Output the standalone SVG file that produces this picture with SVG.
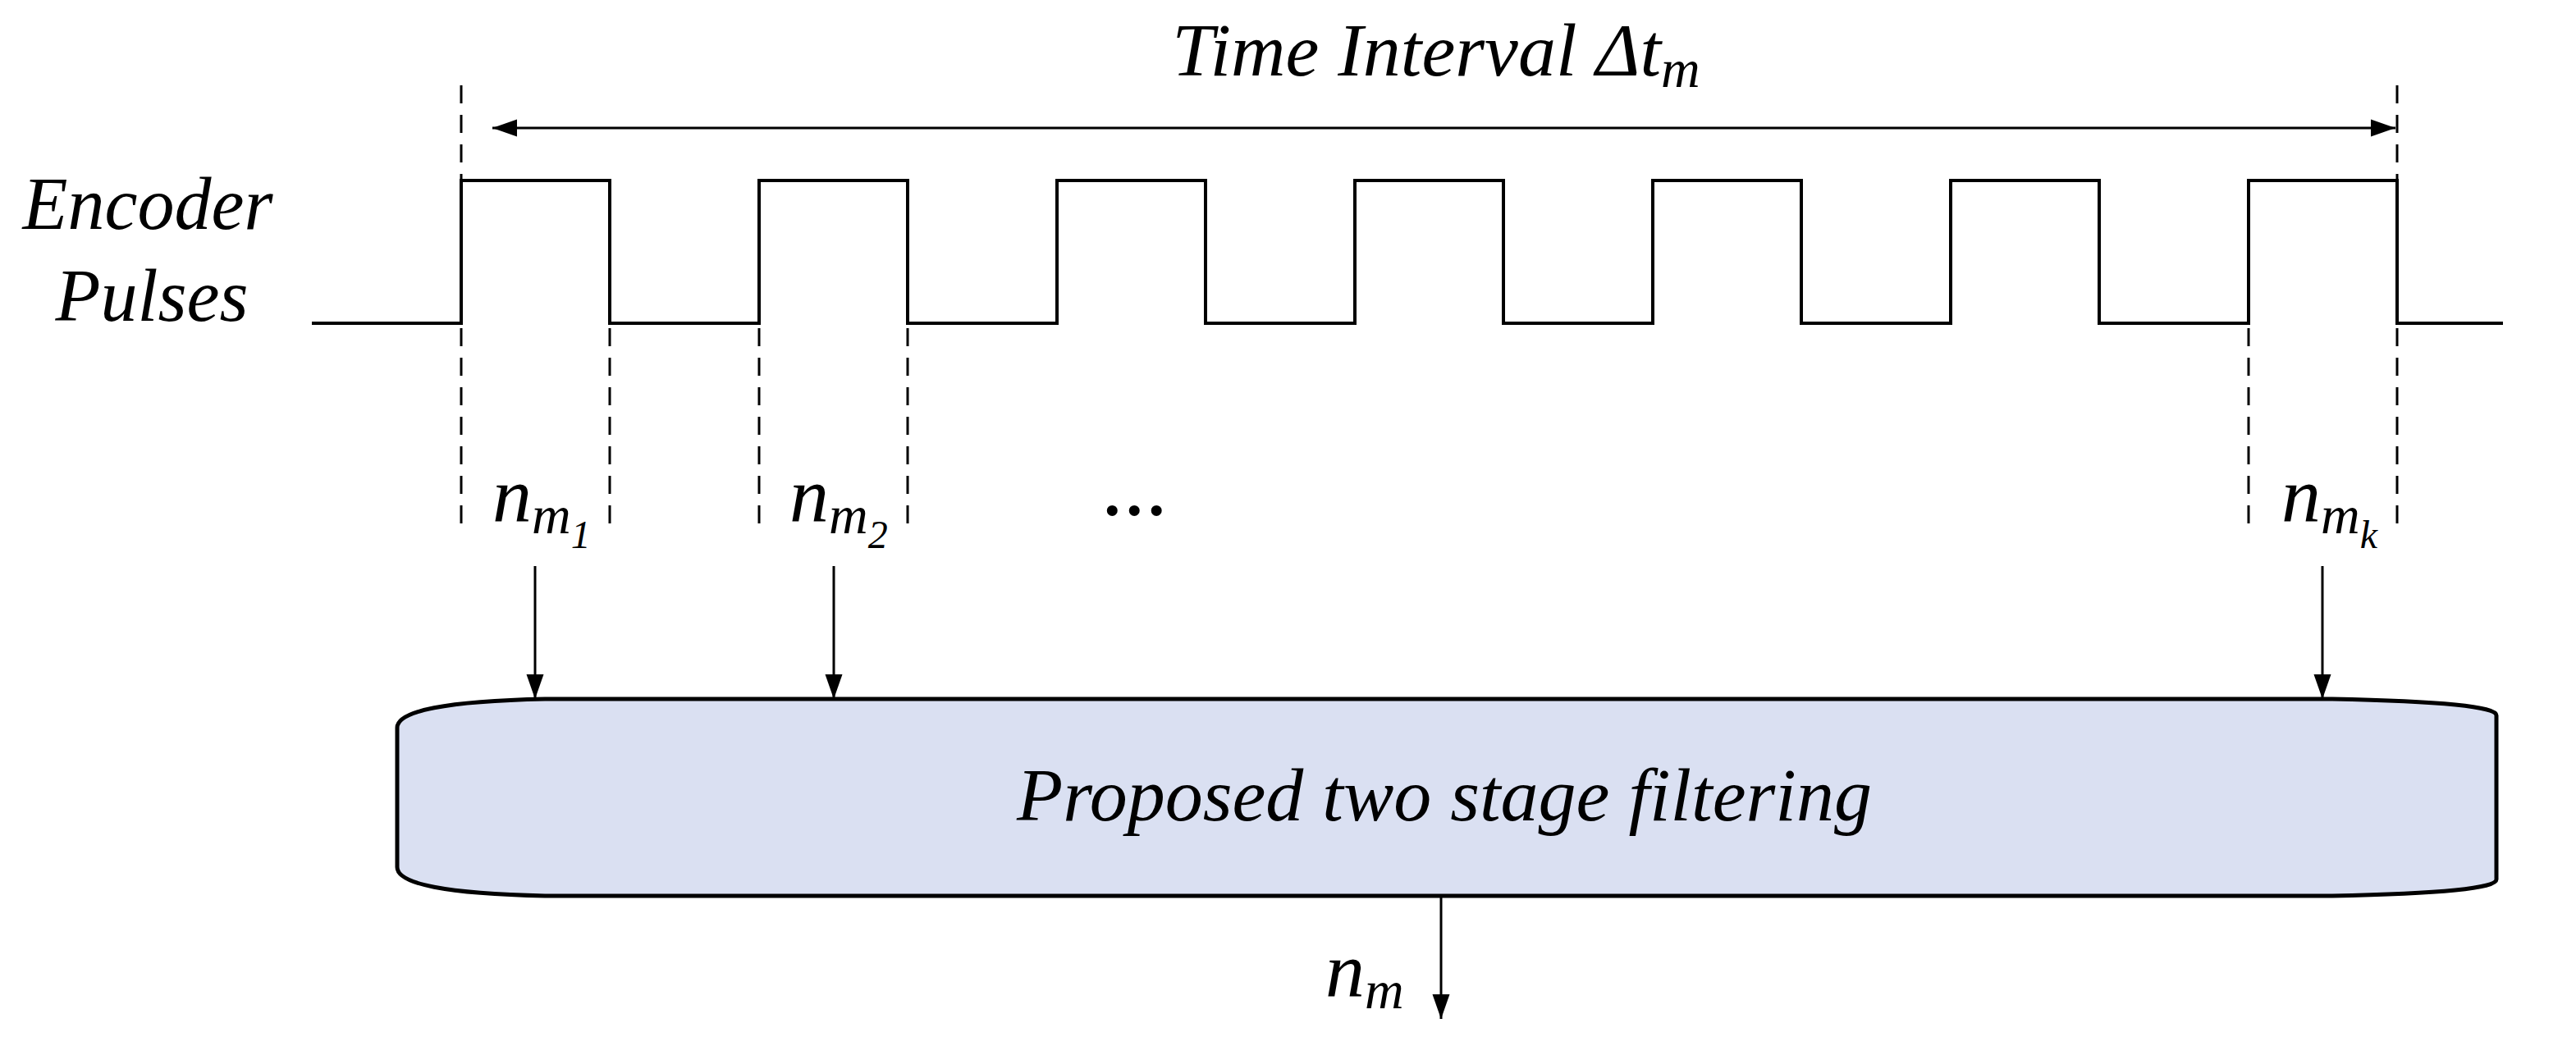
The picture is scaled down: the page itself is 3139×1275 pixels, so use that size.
<svg xmlns="http://www.w3.org/2000/svg" width="3139" height="1275" viewBox="0 0 3139 1275">
<style>
text{font-family:"Liberation Serif","Times New Roman",serif;font-style:italic;fill:#000}
.w{fill:none;stroke:#000;stroke-width:4}
.d{fill:none;stroke:#000;stroke-width:3;stroke-dasharray:22,14}
.a{fill:none;stroke:#000;stroke-width:3}
</style>
<defs>
<marker id="ah" markerWidth="10" markerHeight="10" refX="9" refY="5" orient="auto-start-reverse" markerUnits="userSpaceOnUse" viewBox="0 0 10 10" style="overflow:visible"><path d="M0,0 L10,5 L0,10 Z" transform="scale(2.6) translate(-6,-3)" fill="#000"/></marker>
<marker id="ad" viewBox="0 0 10 10" refX="10" refY="5" markerWidth="30" markerHeight="30" markerUnits="userSpaceOnUse" orient="auto-start-reverse"><path d="M0,1.5 L10,5 L0,8.5 Z" fill="#000"/></marker>
</defs>
<g id="title"><text x="1750" y="92" font-size="92" text-anchor="middle">Time Interval Δt<tspan font-size="66" dy="14">m</tspan></text></g>
<g id="encoder-label">
<text x="180" y="279" font-size="90" text-anchor="middle">Encoder</text>
<text x="185" y="391" font-size="90" text-anchor="middle">Pulses</text>
</g>
<g id="pulses">
<path class="w" d="M380,394 H562 V220 H743 V394 H925 V220 H1106 V394 H1288 V220 H1469 V394 H1651 V220 H1832 V394 H2014 V220 H2195 V394 H2377 V220 H2558 V394 H2740 V220 H2921 V394 H3050"/>
</g>
<g id="guides">
<path class="d" d="M562,104 V220 M2921,104 V220"/>
<path class="d" d="M562,400 V644 M743,400 V644 M925,400 V644 M1106,400 V644 M2740,400 V644 M2921,400 V644"/>
</g>
<g id="labels">
<text x="600" y="636" font-size="96">n<tspan font-size="66" dy="14">m</tspan><tspan font-size="48" dy="18">1</tspan></text>
<text x="962" y="636" font-size="96">n<tspan font-size="66" dy="14">m</tspan><tspan font-size="48" dy="18">2</tspan></text>
<text x="1385" y="628" font-size="80" font-style="normal" font-weight="bold" text-anchor="middle">…</text>
<text x="2780" y="636" font-size="96">n<tspan font-size="66" dy="14">m</tspan><tspan font-size="48" dy="18">k</tspan></text>
<text x="1615" y="1215" font-size="96">n<tspan font-size="66" dy="14">m</tspan></text>
</g>
<g id="filter">
<path d="M664,852 H2842 Q3042,856 3042,872 V1072 Q3042,1088 2842,1092 H664 Q484,1088 484,1057 V887 Q484,856 664,852 Z" fill="#dae0f2" stroke="#000" stroke-width="5"/>
<text x="1760" y="1000" font-size="92" text-anchor="middle">Proposed two stage filtering</text>
</g>
<g id="connectors">
<line class="a" x1="600" y1="156" x2="2919" y2="156" marker-start="url(#ad)" marker-end="url(#ad)"/>
<line class="a" x1="652" y1="690" x2="652" y2="852" marker-end="url(#ad)"/>
<line class="a" x1="1016" y1="690" x2="1016" y2="852" marker-end="url(#ad)"/>
<line class="a" x1="2830" y1="690" x2="2830" y2="852" marker-end="url(#ad)"/>
<line class="a" x1="1756" y1="1094" x2="1756" y2="1242" marker-end="url(#ad)"/>
</g>
</svg>
